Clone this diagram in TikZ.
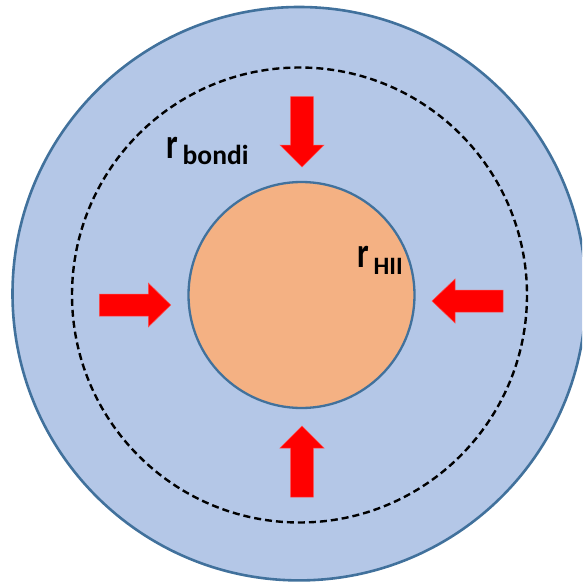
\documentclass[tikz,border=0pt]{standalone}
\usepackage{fontspec}
\setmainfont{Carlito}
\definecolor{outerfill}{HTML}{B4C7E7}
\definecolor{ringline}{HTML}{41719C}
\definecolor{corefill}{HTML}{F4B183}
\definecolor{arrowred}{HTML}{FF0000}
\tikzset{
  outerdisk/.style={fill=outerfill, draw=ringline, line width=2.6pt},
  coredisk/.style={fill=corefill, draw=ringline, line width=2.3pt},
  bondiring/.style={draw=black, line width=2.4pt, dash pattern=on 7pt off 4pt},
  redarrow/.style={fill=arrowred, draw=arrowred!70!white, line width=0.5pt},
  mainlbl/.style={anchor=base west, inner sep=0pt, font=\bfseries\fontsize{43}{46}\selectfont},
  sublbl/.style={anchor=base west, inner sep=0pt, font=\bfseries}
}
\newcommand{\narrowr}{\scalebox{0.76}[1]{r}}
\begin{document}
\begin{tikzpicture}[x=1pt,y=-1pt]
\useasboundingbox (0,0) rectangle (582,583);
\begin{scope}
\clip (0,0) rectangle (582,583);
\draw[outerdisk] (299.2,293.7) circle (286.7);
\end{scope}
\draw[bondiring] (299.5,295) circle (227.5);
\draw[coredisk] (301.5,295) circle (113);
% top arrow (down)
\fill[redarrow] (290.7,96.7) -- (313.3,96.7) -- (313.3,145) -- (324,145) -- (302,167) -- (280,145) -- (290.7,145) -- cycle;
% bottom arrow (up)
\fill[redarrow] (290.7,497) -- (313.3,497) -- (313.3,448) -- (324,448) -- (302,426) -- (280,448) -- (290.7,448) -- cycle;
% left arrow (right)
\fill[redarrow] (99.3,294) -- (148.3,294) -- (148.3,283) -- (170.7,305) -- (148.3,327) -- (148.3,316) -- (99.3,316) -- cycle;
% right arrow (left)
\fill[redarrow] (503,290) -- (455,290) -- (455,279) -- (432,301) -- (455,323) -- (455,312) -- (503,312) -- cycle;
\node[mainlbl] (rb) at (166,158) {\narrowr};
\node[sublbl, font=\bfseries\fontsize{27.5}{30}\selectfont] (rbsub) at (182.5,164.3) {bondi};
\node[mainlbl] (rh) at (357,267.7) {\narrowr};
\node[sublbl, font=\bfseries\fontsize{25}{27}\selectfont] (rhsub) at (373.5,274) {HII};
\end{tikzpicture}
\end{document}
